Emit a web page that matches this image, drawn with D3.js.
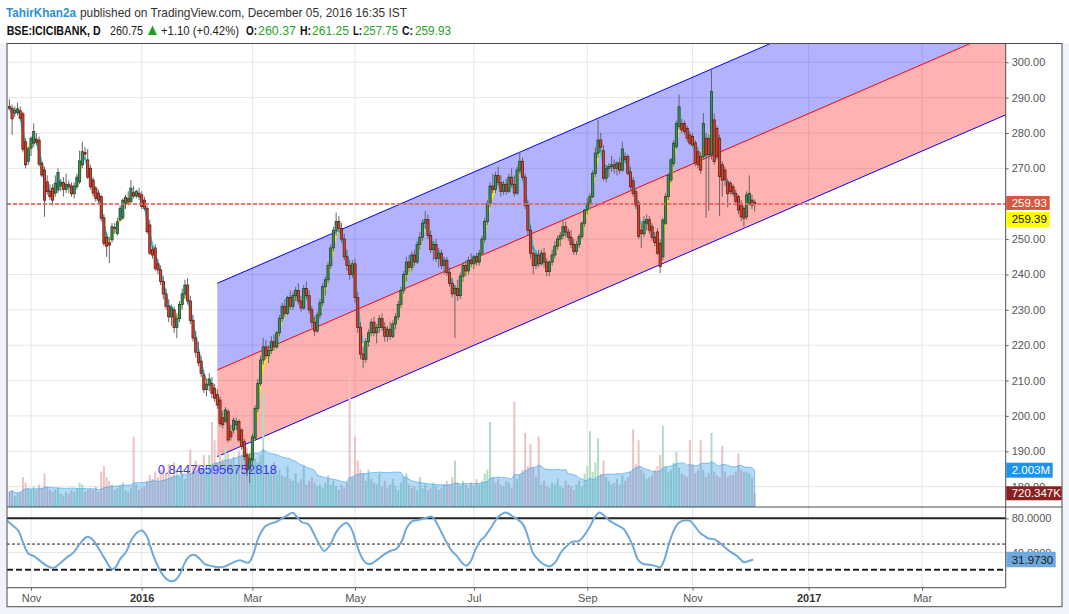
<!DOCTYPE html>
<html><head><meta charset="utf-8">
<script src="https://cdnjs.cloudflare.com/ajax/libs/d3/7.8.5/d3.min.js"></script>
<style>
html,body{margin:0;padding:0;background:#fff;}
svg{display:block;font-family:"Liberation Sans",Arial,sans-serif;}
</style></head><body>
<svg id="c" width="1069" height="614"></svg>
<script>
// ---------------- DATA ----------------
const firstBar = -8; // bar index of first candle (0 = first session of Nov 2015)
// [open, high, low, close]
const ohlc = [
[287.5,289.5,286.5,287.0],[287.0,288.0,279.5,284.0],[285.6,287.5,284.5,286.5],[285.8,288.5,285.0,286.8],[286.3,287.5,283.5,284.2],
[285.4,286.0,274.5,275.4],[277.5,278.5,270.0,271.0],[272.0,276.0,271.0,275.5],[275.7,279.0,273.5,278.5],[277.1,282.7,276.0,280.4],
[278.2,280.0,276.5,277.3],[278.0,279.0,270.5,271.2],[271.4,272.0,267.5,268.1],[269.5,270.5,256.3,261.0],[266.2,268.0,262.5,263.4],
[263.5,265.5,261.0,262.0],[264.4,265.5,259.5,261.0],[263.0,268.0,262.0,265.8],[263.9,270.0,263.0,268.8],[265.0,267.0,263.5,266.0],
[266.0,267.5,262.0,264.0],[264.0,268.5,263.0,265.5],[265.5,266.5,263.0,264.8],[265.0,266.0,262.0,262.8],[262.8,266.0,261.5,265.0],
[264.8,268.5,264.0,267.5],[266.2,275.0,265.5,272.1],[271.0,277.5,270.0,274.7],[274.5,276.0,272.5,274.0],[272.4,275.5,267.0,267.5],
[270.0,271.0,264.0,264.8],[266.7,267.5,262.0,263.0],[264.4,265.0,260.5,261.5],[263.0,264.0,260.0,261.0],[262.0,262.5,255.0,255.9],
[256.0,257.0,248.0,248.8],[250.5,252.0,245.0,248.0],[249.0,250.5,243.2,248.3],[249.8,254.5,249.0,253.5],[253.3,254.5,251.5,253.0],
[251.6,256.0,251.0,254.9],[255.4,259.5,255.0,258.7],[256.0,261.5,255.5,261.0],[260.0,262.5,258.5,261.8],[261.5,263.5,259.5,260.5],
[260.6,266.7,260.0,264.4],[263.1,265.0,261.5,262.2],[262.2,264.0,261.5,263.5],[263.0,264.5,261.0,262.0],[262.5,263.5,258.5,259.2],
[261.0,262.0,258.0,258.7],[258.7,259.5,251.5,252.1],[254.0,255.5,245.5,246.0],[247.0,248.0,244.5,245.5],[247.5,248.5,241.0,241.7],
[243.0,244.5,240.0,241.3],[241.3,242.5,237.0,238.0],[238.0,239.5,233.0,234.5],[234.5,236.0,230.0,231.0],[231.0,233.0,226.5,228.0],
[228.0,231.5,225.5,230.5],[230.0,231.0,223.5,225.0],[225.0,229.0,222.0,227.5],[227.5,232.5,226.5,231.5],[231.5,236.0,230.0,234.5],
[234.5,238.5,233.0,237.0],[237.0,239.0,231.5,232.5],[232.5,234.0,226.0,227.0],[227.0,228.5,221.0,222.0],[222.0,224.0,216.5,218.0],
[218.0,221.0,214.0,215.0],[215.5,217.0,211.0,212.0],[211.6,213.0,206.5,207.4],[207.5,210.5,205.5,209.0],[208.7,212.0,207.0,210.4],
[209.2,211.0,205.0,206.4],[207.8,209.0,204.0,205.0],[206.0,207.5,202.0,203.1],[204.5,205.5,197.0,197.9],[199.5,201.5,196.5,197.5],
[198.5,202.5,198.0,201.7],[201.2,202.0,192.5,193.2],[195.5,197.5,193.0,194.1],[196.0,199.5,195.0,198.8],[197.5,199.5,196.0,198.4],
[198.4,199.0,192.5,193.2],[196.0,196.5,190.5,191.3],[192.7,193.5,187.5,188.5],[188.9,189.5,183.0,184.7],[185.0,189.5,181.0,188.0],
[187.5,195.0,186.0,194.1],[193.7,203.0,193.0,202.1],[202.1,210.5,201.0,209.2],[209.2,217.0,208.5,215.8],[215.8,222.0,214.5,219.5],
[219.5,221.5,216.0,217.0],[217.0,220.0,215.0,218.5],[218.5,222.5,217.5,221.0],[221.0,223.0,218.5,219.5],[219.5,224.0,219.0,223.5],
[223.5,228.5,222.5,227.5],[227.5,232.0,226.5,231.0],[231.0,233.0,228.0,229.0],[229.0,234.0,228.5,233.5],[233.5,235.5,230.0,231.0],
[231.0,235.0,230.0,234.0],[234.0,236.5,232.5,235.5],[235.5,237.5,231.5,232.5],[232.5,234.0,229.5,230.5],[230.5,237.0,230.0,236.0],
[236.0,238.0,233.0,234.0],[234.0,235.5,229.0,230.0],[230.0,231.0,225.0,226.5],[226.5,228.0,222.5,224.0],[224.0,229.5,223.5,228.5],
[228.5,233.0,227.5,232.0],[232.0,237.5,231.0,236.5],[236.5,239.5,234.0,238.5],[238.5,243.5,237.5,242.5],[242.5,248.5,241.5,247.5],
[247.5,253.5,246.5,252.5],[252.5,257.5,251.0,255.0],[255.0,256.5,252.0,253.0],[253.0,254.5,249.0,250.0],[250.0,251.5,244.0,245.0],
[245.0,247.0,241.0,242.5],[242.5,244.0,238.5,240.0],[240.0,244.0,239.0,243.0],[243.0,244.5,232.0,233.5],[233.5,235.0,223.5,225.0],
[225.0,226.5,216.0,217.5],[217.5,219.5,213.5,216.0],[216.0,222.0,215.0,221.0],[221.0,224.5,219.5,223.5],[223.5,227.5,222.5,226.5],
[226.5,228.0,222.5,223.5],[223.5,226.0,220.5,225.0],[225.0,228.5,223.5,227.5],[227.5,229.0,224.0,225.0],[225.0,226.5,221.0,222.5],
[222.5,225.5,221.0,224.5],[224.5,226.5,221.5,222.5],[222.5,227.0,222.0,226.0],[226.0,229.0,224.5,228.0],[228.0,232.5,227.0,231.5],
[231.5,236.5,230.5,235.5],[235.5,241.0,234.5,240.0],[240.0,245.0,238.0,243.5],[243.5,245.5,240.5,242.0],[242.0,246.5,241.0,245.5],
[245.5,247.0,242.5,243.5],[243.5,249.5,243.0,248.5],[248.5,252.0,247.0,250.5],[250.5,255.5,249.5,254.5],[254.5,258.0,253.0,255.5],
[255.5,257.0,250.0,251.0],[251.0,252.5,246.0,247.0],[247.0,249.5,244.0,248.5],[248.5,250.0,243.5,244.5],[244.5,247.5,242.0,246.0],
[246.0,247.0,241.5,242.5],[242.5,245.0,240.0,244.0],[244.0,245.0,239.5,240.5],[240.5,242.0,236.5,237.5],[237.5,239.0,233.5,234.5],
[234.5,237.0,222.0,236.0],[236.0,238.5,232.5,234.0],[234.0,240.5,233.0,239.5],[239.5,243.5,238.0,242.5],[242.5,244.0,239.5,241.0],
[241.0,245.0,240.0,244.0],[244.0,246.0,242.0,243.0],[243.0,245.5,241.5,245.0],[245.0,246.0,242.5,243.5],[243.5,247.0,242.5,246.0],
[246.0,251.0,245.5,250.0],[250.0,256.0,249.0,255.0],[255.0,261.0,254.0,260.0],[260.0,266.0,259.0,265.0],[265.0,268.5,263.0,264.0],
[264.0,269.0,263.0,268.0],[268.0,270.5,265.0,266.0],[266.0,268.0,262.0,263.5],[263.5,266.5,262.5,265.5],[265.5,267.0,262.5,263.5],
[263.5,268.5,263.0,267.5],[267.5,270.0,264.5,265.5],[265.5,268.0,262.0,263.0],[263.0,270.5,262.5,269.5],[269.5,274.6,268.5,272.0],
[272.0,273.0,266.5,267.5],[267.5,268.5,258.5,259.5],[259.5,261.0,251.0,252.5],[252.5,254.0,244.5,246.0],[246.0,248.0,240.0,242.5],
[242.5,246.5,241.5,245.5],[245.5,247.0,242.0,243.0],[243.0,247.0,242.5,246.0],[246.0,247.5,242.0,243.5],[243.5,244.5,239.5,240.8],
[240.8,244.0,239.5,243.5],[243.5,247.0,242.5,245.5],[245.5,249.5,244.5,248.0],[248.0,251.0,247.0,250.0],[250.0,252.0,248.0,251.0],
[251.0,255.5,250.0,253.5],[253.5,255.0,250.5,252.0],[252.0,253.0,249.5,250.5],[250.5,252.5,247.5,248.5],[248.5,250.0,245.5,246.5],
[246.5,249.5,245.5,248.5],[248.5,251.5,247.5,250.7],[250.7,255.0,250.0,254.5],[254.5,258.5,253.5,258.2],[258.2,261.5,257.0,260.1],
[260.1,263.0,258.5,262.0],[262.0,269.5,261.5,268.6],[268.6,276.0,267.5,274.3],[274.3,283.7,273.0,278.0],[278.0,280.0,274.5,276.0],
[275.0,276.5,266.5,267.2],[267.2,271.0,266.0,270.0],[270.0,271.5,267.5,270.5],[270.5,273.5,269.0,271.0],[271.0,272.5,268.5,270.0],
[270.0,272.0,268.0,271.5],[271.5,273.0,268.5,269.5],[269.5,277.5,269.0,275.5],[273.3,274.5,271.5,272.5],[273.3,274.0,268.0,268.6],
[269.0,270.5,264.0,264.8],[266.5,267.5,262.0,262.9],[263.4,264.5,258.5,259.6],[260.2,261.0,250.0,250.7],[252.5,254.5,247.5,251.5],
[251.5,256.5,250.5,255.0],[254.5,257.0,252.5,255.5],[255.5,256.5,251.5,252.5],[253.5,254.5,249.5,250.5],[250.5,252.0,248.0,249.0],
[252.0,253.0,245.5,246.0],[248.8,250.0,240.4,242.2],[245.0,256.0,244.0,255.4],[254.5,263.0,254.0,262.0],[262.0,268.5,261.0,268.1],
[266.7,273.0,266.0,272.4],[271.4,278.0,270.5,277.1],[276.1,283.5,275.5,282.7],[281.8,290.8,281.0,287.4],[282.7,284.0,280.0,280.9],
[282.7,283.5,279.5,280.4],[281.3,282.0,277.5,278.5],[279.4,280.5,276.5,277.1],[279.0,280.0,276.0,276.6],[277.2,278.0,270.5,271.5],
[274.7,276.0,270.0,271.0],[273.3,274.5,268.5,269.5],[273.3,285.6,272.5,282.7],[278.5,280.0,256.0,273.8],[278.5,279.5,258.0,273.8],
[273.8,298.0,272.5,291.7],[283.7,285.5,271.0,271.9],[281.3,282.0,272.5,273.3],[278.5,279.5,256.5,267.7],[271.0,272.0,262.0,266.7],
[269.5,270.5,265.0,266.7],[266.2,267.0,259.0,262.9],[265.8,266.5,262.5,263.4],[264.8,265.5,262.0,262.9],[262.9,264.0,259.5,260.6],
[262.0,262.5,257.0,258.2],[260.1,261.0,255.0,256.3],[258.7,259.5,253.5,255.9],[256.3,263.5,255.5,262.5],[260.1,268.0,259.5,262.9],
[261.0,262.5,258.5,259.6],[260.37,261.25,257.75,259.93]
];
// volume, millions
const volumes = [
0.8,0.9,0.6,0.7,0.8,1.6,1.3,1.0,0.9,1.1,
0.9,1.2,1.0,1.8,1.1,0.9,0.8,0.9,1.0,0.7,
0.6,0.8,0.7,0.9,0.8,1.0,1.3,1.2,0.8,0.9,
1.0,0.9,1.1,0.8,1.9,2.2,1.6,1.4,1.2,0.9,
1.0,1.1,1.3,0.9,0.8,1.0,3.8,1.2,0.9,1.0,
1.1,1.4,1.7,1.5,1.9,1.6,2.0,2.2,1.8,2.3,
1.7,2.4,1.9,1.6,1.8,1.5,2.0,3.1,2.2,2.5,
2.3,2.0,2.8,1.9,2.8,4.6,3.6,2.4,3.0,2.6,
3.3,2.9,2.5,2.7,2.2,3.0,2.8,3.5,3.2,2.7,
3.2,2.6,2.4,2.8,6.2,2.2,1.9,2.1,2.4,1.8,
2.0,1.7,1.6,2.2,1.5,1.4,1.8,1.3,1.5,2.2,
1.2,1.4,1.6,1.3,1.1,1.2,1.0,1.3,1.7,1.2,
1.4,1.1,0.9,1.2,1.0,1.3,6.9,1.6,3.8,2.5,
2.0,1.8,1.4,2.0,1.5,1.3,1.2,1.8,1.1,1.4,
1.0,1.2,1.5,1.1,0.9,1.3,1.6,1.8,1.2,1.0,
1.1,0.9,1.6,1.0,1.2,0.9,1.0,1.3,1.1,0.9,
1.0,1.2,1.4,1.2,1.6,2.5,1.3,1.1,1.4,1.2,
1.0,1.3,1.1,1.5,1.2,1.4,1.8,2.0,4.6,1.6,
1.3,1.5,1.2,1.1,1.4,1.3,1.0,5.7,1.5,1.7,
2.0,4.0,2.2,3.4,2.1,1.6,3.8,1.2,1.4,1.1,
1.0,1.3,1.2,1.5,1.1,1.0,1.4,1.2,1.1,0.9,
1.2,1.4,1.1,1.8,2.2,4.1,1.9,2.4,3.7,1.8,
2.5,1.6,1.4,1.2,1.3,1.5,1.2,1.7,1.4,1.6,
1.9,4.2,2.3,3.6,2.0,1.8,1.5,1.6,1.7,2.0,
2.2,2.8,4.4,2.2,1.9,2.0,2.4,3.0,2.1,1.8,
1.7,1.6,3.6,2.3,1.8,2.0,3.6,2.0,1.6,1.8,
4.0,1.9,1.7,1.6,3.3,1.9,1.6,1.7,1.7,1.9,
2.9,2.0,1.9,1.9,1.8,1.6,0.72
];
// oscillator (bar index, value)
const oscIdx = [-8.8,-7.1,-4.7,-2.9,-1,0.9,3.3,5.8,8.3,10.7,13.2,15.7,18.1,20.6,22.5,24.9,27.4,29.9,31.1,33,35.4,37.3,39.1,41,42.9,44.7,46.6,49,51.5,53.3,55.2,57,58.9,60.7,62.6,64.4,66.9,69.4,71.9,74.9,77.4,80.5,82.3,84.2,86.7,88.5,91,94.1,96.9,98.4,100.3,102.7,104.6,106.8,108.6,110.7,113.2,115.7,117.1,118.8,120.6,122.5,124.3,126.2,128,130.5,133,135.4,137.3,139.1,141,143.4,145.9,148.4,150.3,152.1,154,155.8,157.7,159.5,161.1,162.6,164.4,166.3,168.1,170.6,173.1,175.9,178,180.5,182.3,184.2,186,188.5,190.4,192.2,194.1,196.6,198.4,200.3,202.7,204.6,207,208.9,210.5,212,214.4,216.9,219.4,221.2,223.1,224.9,226.8,229.3,231.7,233,234.4,236,237.9,239.7,241.6,244.1,245.9,247.8,249.6,250.9,252.7,254.6,256.4,258.9,261.4,264.1,265.7,267.5];
const oscVal = [77.3,72.4,65.5,51.4,38.9,36.2,30.5,24.8,22.1,27.4,34.3,40,50.3,58.3,56,45.7,32.4,21,22,32.4,41.9,55.2,62.9,65.9,59,41.9,26.7,13.3,6.9,7.6,15.2,28.6,36.2,37.3,32.4,26.7,24.4,22.9,24,28.6,31.2,28.2,38.1,57.1,70.5,73.5,76.2,81.9,86.5,81.9,75.4,73.1,62.9,49.5,41.9,48.8,64.8,73.1,74.3,66.7,49.5,34.3,27.4,27.4,31.2,37.3,41.9,44.6,53.3,68.6,76.2,78.1,80,81.9,74.3,62.9,51.4,41.9,36.2,28.6,24.8,28.6,41.9,53.3,59,70.5,81.9,86.9,83,78.1,72.4,57.1,38.9,29.7,25.5,24,28.6,41.9,47.6,52.6,53.3,59,70.5,81.9,86.9,83.8,77,72.4,67.8,59,45.7,31.2,26.7,25.9,24,22.9,30.5,47.6,64.8,74.3,77.3,77,70.5,62.9,59,56.4,56,52.6,47.6,41.1,36.2,28.8,30.2,31.973];
const oscLevels = [80, 50, 20];
const oscTicks = [40, 80];
const priceTicks = [180,190,200,210,220,230,240,250,260,270,280,290,300];
const monthIdx = [0,41,82,120,164,206,245,288,330];
const monthLab = ['Nov','2016','Mar','May','Jul','Sep','Nov','2017','Mar'];
// linear regression channel
const chanStart = 69, chanMid0 = 213.0, chanSlope = 0.331, chanHalf = 24.5;
const pearson = '0.844765956752818';
const emaLen = 3;
const lastClose = 259.93, maValue = 259.39, volMaText = '2.003M', lastVolText = '720.347K', oscLastText = '31.9730';

// ---------------- LAYOUT ----------------
const L = 7, R = 1005.7, RR = 1062, T = 43.5, MB = 507, OB = 587.7, BB = 606.7;
const svg = d3.select('#c');
svg.append('rect').attr('width',1069).attr('height',614).attr('fill','#f0f3fa');
svg.append('rect').attr('width',1069).attr('height',T).attr('fill','#ffffff');
svg.append('rect').attr('x',L).attr('y',T).attr('width',RR-L).attr('height',BB-T).attr('fill','#ffffff');

const x = d3.scaleLinear().domain([-8.89, 360.96]).range([L, R]);
const y = d3.scaleLinear().domain([174.24, 305.3]).range([MB, T]);
const yv = d3.scaleLinear().domain([0, 25.2]).range([MB - 0.5, T]);
const yo = d3.scaleLinear().domain([-0.9, 93.2]).range([OB, MB]);

const defs = svg.append('defs');
defs.append('clipPath').attr('id','cm').append('rect').attr('x',L).attr('y',T).attr('width',R-L).attr('height',MB-T);
defs.append('clipPath').attr('id','co').append('rect').attr('x',L).attr('y',MB).attr('width',R-L).attr('height',OB-MB);

const gm = svg.append('g').attr('clip-path','url(#cm)');
const go = svg.append('g').attr('clip-path','url(#co)');

// grid
gm.selectAll('.hg').data(priceTicks).join('line')
  .attr('x1',L).attr('x2',R).attr('y1',d=>y(d)).attr('y2',d=>y(d))
  .attr('stroke','#e6e6e6').attr('stroke-width',1);
gm.selectAll('.vg').data(monthIdx).join('line')
  .attr('x1',d=>x(d)).attr('x2',d=>x(d)).attr('y1',T).attr('y2',MB)
  .attr('stroke','#e6e6e6').attr('stroke-width',1);
go.selectAll('.ohg').data(oscTicks).join('line')
  .attr('x1',L).attr('x2',R).attr('y1',d=>yo(d)).attr('y2',d=>yo(d))
  .attr('stroke','#e6e6e6');
go.selectAll('.ovg').data(monthIdx).join('line')
  .attr('x1',d=>x(d)).attr('x2',d=>x(d)).attr('y1',MB).attr('y2',OB)
  .attr('stroke','#e6e6e6');

// regression channel
const xEnd = x.domain()[1];
const mid = i => chanMid0 + chanSlope*(i-chanStart);
const cx = [chanStart, xEnd];
gm.append('path').datum(cx)
  .attr('d', d3.area().x(i=>x(i)).y0(i=>y(mid(i))).y1(i=>y(mid(i)+chanHalf)))
  .attr('fill','rgba(0,0,255,0.3)');
gm.append('path').datum(cx)
  .attr('d', d3.area().x(i=>x(i)).y0(i=>y(mid(i)-chanHalf)).y1(i=>y(mid(i))))
  .attr('fill','rgba(255,0,0,0.3)');
const ln = off => d3.line().x(i=>x(i)).y(i=>y(mid(i)+off));
gm.append('path').datum(cx).attr('d',ln(chanHalf)).attr('stroke','#0000ff').attr('fill','none');
gm.append('path').datum(cx).attr('d',ln(-chanHalf)).attr('stroke','#0000ff').attr('fill','none');
gm.append('path').datum(cx).attr('d',ln(0)).attr('stroke','#ff0000').attr('fill','none');

// bars
const bars = ohlc.slice(0, volumes.length).map((c,k)=>({i:firstBar+k,o:c[0],h:c[1],l:c[2],c:c[3],v:volumes[k]}));

// volume
gm.selectAll('.vb').data(bars).join('rect')
  .attr('x',d=>x(d.i)-1).attr('width',2)
  .attr('y',d=>yv(d.v)).attr('height',d=>yv(0)-yv(d.v))
  .attr('fill',d=>d.c>=d.o?'#b4dcc0':'#ecc2c2');
const ma = bars.map((d,k)=>{const s=bars.slice(Math.max(0,k-19),k+1);return {i:d.i,m:d3.mean(s,e=>e.v)};});
gm.append('path').datum(ma)
  .attr('d', d3.area().x(d=>x(d.i)).y0(yv(0)).y1(d=>yv(d.m)).curve(d3.curveLinear))
  .attr('fill','rgba(40,150,235,0.35)').attr('stroke','rgba(60,160,240,0.6)').attr('stroke-width',1);

// fast EMA (direction coloured), drawn behind candles
const a = 2/(emaLen+1);
const ema = [];
bars.forEach((d,k)=>{ ema.push(k===0 ? d.c : ema[k-1] + a*(d.c-ema[k-1])); });
const segs2 = bars.slice(1).map((d,k)=>({i0:bars[k].i,i1:d.i,e0:ema[k],e1:ema[k+1]}));
gm.selectAll('.em').data(segs2).join('line')
  .attr('x1',d=>x(d.i0)).attr('x2',d=>x(d.i1)).attr('y1',d=>y(d.e0)).attr('y2',d=>y(d.e1))
  .attr('stroke',d=>d.e1>=d.e0?'#ffee00':'#00d8ff').attr('stroke-width',2.2)
  .attr('stroke-linecap','round').attr('opacity',0.85);

// candles
const cg = gm.append('g');
cg.selectAll('.wk').data(bars).join('line')
  .attr('x1',d=>x(d.i)).attr('x2',d=>x(d.i)).attr('y1',d=>y(d.h)).attr('y2',d=>y(d.l))
  .attr('stroke','#666').attr('stroke-width',1);
cg.selectAll('.bd').data(bars).join('rect')
  .attr('x',d=>x(d.i)-1.1).attr('width',2.2)
  .attr('y',d=>y(Math.max(d.o,d.c))).attr('height',d=>Math.max(0.8,Math.abs(y(d.o)-y(d.c))))
  .attr('fill',d=>d.c>=d.o?'#3f8e60':'#d5472e')
  .attr('stroke',d=>d.c>=d.o?'#1d4a30':'#6a1c12').attr('stroke-width',0.8);

// last price dashed line
gm.append('line').attr('x1',L).attr('x2',R).attr('y1',y(lastClose)).attr('y2',y(lastClose))
  .attr('stroke','#e2695d').attr('stroke-width',2).attr('stroke-dasharray','4,2').attr('opacity',0.85);

// pearson label
svg.append('text').attr('x',x(chanStart)).attr('y',y(mid(chanStart)-chanHalf)+17)
  .attr('text-anchor','middle').attr('font-size',13).attr('fill','#3b3be6').text(pearson);

// oscillator
oscLevels.forEach((lv,k)=>{
  go.append('line').attr('x1',L).attr('x2',R).attr('y1',yo(lv)).attr('y2',yo(lv))
    .attr('stroke','#222').attr('stroke-width',k===1?1:2)
    .attr('stroke-dasharray',k===0?null:(k===1?'3,2':'6,3'));
});
const oscPts = oscIdx.map((d,k)=>[d,oscVal[k]]);
go.append('path').datum(oscPts)
  .attr('d', d3.line().x(d=>x(d[0])).y(d=>yo(d[1])).curve(d3.curveCatmullRom))
  .attr('fill','none').attr('stroke','#6fa8dc').attr('stroke-width',2);

// frames
const fr = svg.append('g').attr('stroke','#4d4d4d').attr('stroke-width',1).attr('fill','none');
fr.append('rect').attr('x',L).attr('y',T).attr('width',RR-L).attr('height',BB-T);
fr.append('line').attr('x1',R).attr('x2',R).attr('y1',T).attr('y2',OB);
fr.append('line').attr('x1',L).attr('x2',RR).attr('y1',MB).attr('y2',MB);
fr.append('line').attr('x1',L).attr('x2',R).attr('y1',OB).attr('y2',OB);

// price axis
const ax = svg.append('g').attr('transform',`translate(${R},0)`)
  .call(d3.axisRight(y).tickValues(priceTicks).tickFormat(d3.format('.2f')).tickSize(3).tickPadding(3));
ax.select('.domain').remove();
ax.selectAll('line').attr('stroke','#666');
ax.selectAll('text').attr('font-size',11).attr('fill','#555').attr('font-family','"Liberation Sans",Arial,sans-serif');
const oax = svg.append('g').attr('transform',`translate(${R},0)`)
  .call(d3.axisRight(yo).tickValues(oscTicks).tickFormat(d3.format('.4f')).tickSize(3).tickPadding(3));
oax.select('.domain').remove();
oax.selectAll('line').attr('stroke','#666');
oax.selectAll('text').attr('font-size',11).attr('fill','#555').attr('font-family','"Liberation Sans",Arial,sans-serif');

// time axis
const tax = svg.append('g').attr('transform',`translate(0,${OB})`)
  .call(d3.axisBottom(x).tickValues(monthIdx).tickFormat((d,k)=>monthLab[k]).tickSize(3).tickPadding(4));
tax.select('.domain').remove();
tax.selectAll('line').attr('stroke','#666');
tax.selectAll('text').attr('font-size',11).attr('fill',(d,k)=>/^\d/.test(monthLab[k])?'#333':'#555')
  .attr('font-weight',(d,k)=>/^\d/.test(monthLab[k])?'bold':'normal')
  .attr('font-family','"Liberation Sans",Arial,sans-serif');

// value labels
function tag(yc, h, w, fill, txt, col){
  svg.append('rect').attr('x',R+0.5).attr('y',yc-h/2).attr('width',w).attr('height',h).attr('fill',fill);
  svg.append('text').attr('x',R+6).attr('y',yc+4).attr('font-size',11.5).attr('fill',col).text(txt);
}
tag(y(lastClose)-1, 14, 43.5, '#d6573f', d3.format('.2f')(lastClose), '#fff');
tag(y(lastClose)+15.5, 15, 43.5, '#ffff00', d3.format('.2f')(maValue), '#111');
tag(yv(d3.mean(volumes.slice(-20))), 15, 46.5, '#1e93ea', volMaText, '#fff');
tag(yv(volumes[volumes.length-1]), 14, 55.5, '#8a2020', lastVolText, '#fff');
tag(yo(oscVal[oscVal.length-1]), 15.5, 49.5, '#6fa8dc', oscLastText, '#1a1a1a');

// header
const h1 = svg.append('text').attr('y',16.8).attr('font-size',13);
h1.append('tspan').attr('x',6).attr('font-weight','bold').attr('fill','#2d8fd5').attr('textLength',70).attr('lengthAdjust','spacingAndGlyphs').text('TahirKhan2a');
h1.append('tspan').attr('x',80).attr('fill','#333').attr('textLength',327).attr('lengthAdjust','spacingAndGlyphs').text('published on TradingView.com, December 05, 2016 16:35 IST');
const segs = [
  ['BSE:ICICIBANK, D',6.7,94,'bold','#111'],['260.75',110,33,'normal','#222'],
  ['+1.10 (+0.42%)',161,78,'normal','#222'],
  ['O:',246,11,'bold','#111'],['260.37',258,38,'normal','#26a526'],
  ['H:',300,11,'bold','#111'],['261.25',312,37,'normal','#26a526'],
  ['L:',353,9,'bold','#111'],['257.75',363,35,'normal','#26a526'],
  ['C:',402,11,'bold','#111'],['259.93',415,36,'normal','#26a526']
];
const h2 = svg.append('g');
segs.forEach(s=>{
  h2.append('text').attr('x',s[1]).attr('y',34.5).attr('font-size',12).attr('font-weight',s[3]).attr('fill',s[4])
    .attr('textLength',s[2]).attr('lengthAdjust','spacingAndGlyphs').text(s[0]);
});
h2.append('path').attr('d','M148,35 L157,35 L152.5,25.5 Z').attr('fill','#1f9e1f');
</script>
</body></html>
